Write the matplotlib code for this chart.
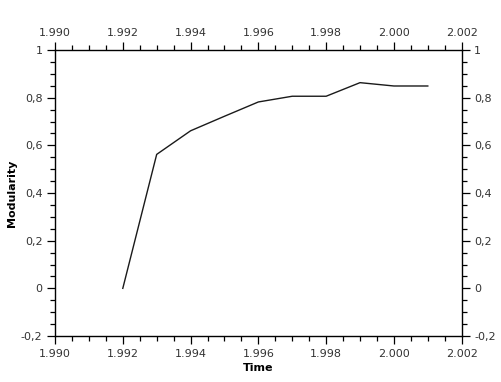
import matplotlib
matplotlib.use("Agg")
import matplotlib.pyplot as plt
from matplotlib.ticker import FuncFormatter, MultipleLocator

# modularity over time
years = [1992, 1993, 1994, 1995, 1996, 1997, 1998, 1999, 2000, 2001]
modularity = [0.0, 0.562, 0.661, 0.722, 0.782, 0.806, 0.806, 0.863, 0.849, 0.849]


def fmt_year(v, pos):
    s = "{:,.0f}".format(v)
    return s.replace(",", ".")


def fmt_val(v, pos):
    if abs(v - round(v)) < 1e-9:
        return "{:.0f}".format(v)
    return "{:.1f}".format(v).replace(".", ",")


fig = plt.figure(figsize=(5.02, 3.82), dpi=100)
ax = fig.add_axes([0.1096, 0.1204, 0.8101, 0.7487])

ax.plot(years, modularity, color="#1a1a1a", linewidth=1.0)

ax.set_xlim(1990, 2002)
ax.set_ylim(-0.2, 1.0)
ax.xaxis.set_major_locator(MultipleLocator(2))
ax.xaxis.set_minor_locator(MultipleLocator(0.5))
ax.yaxis.set_major_locator(MultipleLocator(0.2))
ax.yaxis.set_minor_locator(MultipleLocator(0.05))
ax.xaxis.set_major_formatter(FuncFormatter(fmt_year))
ax.yaxis.set_major_formatter(FuncFormatter(fmt_val))

ax.tick_params(which="both", direction="out", top=True, right=True,
               labeltop=True, labelright=True, width=0.9, color="black",
               labelsize=8, labelcolor="#333333")
ax.tick_params(which="major", length=6, pad=3)
ax.tick_params(which="minor", length=3.5)

for sp in ax.spines.values():
    sp.set_linewidth(1.0)

ax.set_xlabel("Time", fontsize=8, fontweight="bold", labelpad=3)
ax.set_ylabel("Modularity", fontsize=8, fontweight="bold", labelpad=3)

fig.savefig("out.png", dpi=100)
